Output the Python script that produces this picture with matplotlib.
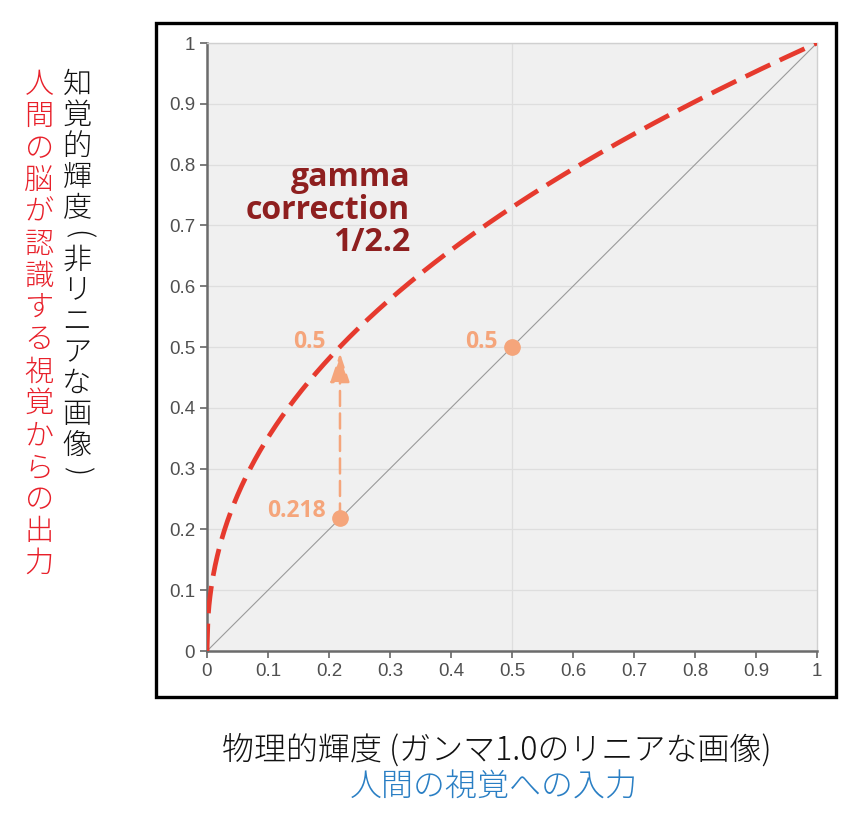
import numpy as np
import matplotlib.pyplot as plt
from matplotlib.patches import Rectangle

plt.rcParams['font.family'] = ['Liberation Sans', 'DejaVu Sans']
JP = ['Noto Sans CJK JP', 'DejaVu Sans']
BOLD = ['Open Sans', 'DejaVu Sans']

# gamma curve 1/2.2
gamma = 2.2
x_curve = np.linspace(0, 1, 600)
y_curve = x_curve ** (1 / gamma)

ticks = [0, 0.1, 0.2, 0.3, 0.4, 0.5, 0.6, 0.7, 0.8, 0.9, 1]
tick_labels = ['0', '0.1', '0.2', '0.3', '0.4', '0.5', '0.6', '0.7', '0.8', '0.9', '1']

# highlighted points on the linear line
pts_x = [0.218, 0.5]
pts_y = [0.218, 0.5]
pts_lbl = ['0.218', '0.5']
arrow_x = 0.218
arrow_from, arrow_to = 0.218, 0.5

ylab_black = list('知覚的輝度(非リニアな画像)')
ylab_red = list('人間の脳が認識する視覚からの出力')
xlab_black = '物理的輝度 (ガンマ1.0のリニアな画像)'
xlab_blue = '人間の視覚への入力'

ORANGE = '#f5a57b'

W, H = 867, 823
fig = plt.figure(figsize=(W / 100, H / 100), dpi=100)

def fx(px):
    return px / W

def fy(py):
    return 1 - py / H

# black frame around the chart
fig.patches.append(Rectangle((fx(156), fy(697)), fx(836) - fx(156), fy(23) - fy(697),
                             transform=fig.transFigure, fill=False, ec='black', lw=2.4))

ax = fig.add_axes([fx(207), fy(651), fx(817) - fx(207), fy(43) - fy(651)])
ax.set_facecolor('#f0f0f0')
ax.set_xlim(0, 1)
ax.set_ylim(0, 1)

for t in ticks[1:]:
    ax.axhline(t, color='#dedede', lw=0.9, zorder=0)
ax.axvline(0.5, color='#dedede', lw=0.9, zorder=0)

ax.plot([0, 1], [0, 1], color='#9a9a9a', lw=0.8, zorder=2)
ax.plot(x_curve, y_curve, color='#e63a2e', lw=3.4, dashes=(5.8, 2.2), zorder=3)

ax.annotate('', xy=(arrow_x, arrow_to - 0.01), xytext=(arrow_x, arrow_from),
            arrowprops=dict(arrowstyle='-|>,head_length=0.9,head_width=0.3', color=ORANGE,
                            lw=1.8, ls=(0, (6, 3)), mutation_scale=20,
                            shrinkA=0, shrinkB=0), zorder=4)
ax.plot(pts_x, pts_y, 'o', color=ORANGE, ms=11, zorder=5)
ax.text(pts_x[0] - 0.023, pts_y[0] + 0.012, pts_lbl[0], color=ORANGE, fontsize=16.5,
        fontweight='bold', ha='right', va='center', family=BOLD)
ax.text(arrow_x - 0.023, arrow_to + 0.008, '0.5', color=ORANGE, fontsize=16.5,
        fontweight='bold', ha='right', va='center', family=BOLD)
ax.text(pts_x[1] - 0.023, pts_y[1] + 0.008, pts_lbl[1], color=ORANGE, fontsize=16.5,
        fontweight='bold', ha='right', va='center', family=BOLD)

ax.text(0.333, 0.725, 'gamma\ncorrection\n1/2.2', color='#8e1f1f', fontsize=23,
        fontweight='bold', ha='right', va='center', linespacing=0.98, family=BOLD)

ax.set_xticks(ticks)
ax.set_xticklabels(tick_labels)
ax.set_yticks(ticks)
ax.set_yticklabels(tick_labels)
ax.tick_params(colors='#666666', labelcolor='#505050', labelsize=13.5, length=5, width=1.2)
for s in ['left', 'bottom']:
    ax.spines[s].set_color('#6b6b6b')
    ax.spines[s].set_linewidth(1.8)
for s in ['top', 'right']:
    ax.spines[s].set_color('#d0d0d0')
    ax.spines[s].set_linewidth(1.0)

# vertical y-axis labels, one glyph at a time
y = 85
for i, ch in enumerate(ylab_black):
    if ch in '()':
        if i > 0:
            y += (31 + 20) / 2 - 31
        fig.text(fx(77), fy(y), ch, family=JP, fontsize=21, rotation=-90, fontweight='light',
                 ha='center', va='center', color='#111111')
        y += (31 + 20) / 2
    else:
        fig.text(fx(77), fy(y), ch, family=JP, fontsize=21, fontweight='light',
                 ha='center', va='center', color='#111111')
        y += 31
for i, ch in enumerate(ylab_red):
    fig.text(fx(39), fy(85 + i * 31.9), ch, family=JP, fontsize=21, fontweight='light',
             ha='center', va='center', color='#e8202a')

fig.text(fx(497), fy(750), xlab_black, family=JP, fontsize=23, fontweight='light',
         ha='center', va='center', color='#111111')
fig.text(fx(494), fy(787), xlab_blue, family=JP, fontsize=23, fontweight='light',
         ha='center', va='center', color='#2a7fc4')

fig.savefig('out.png', dpi=100)
